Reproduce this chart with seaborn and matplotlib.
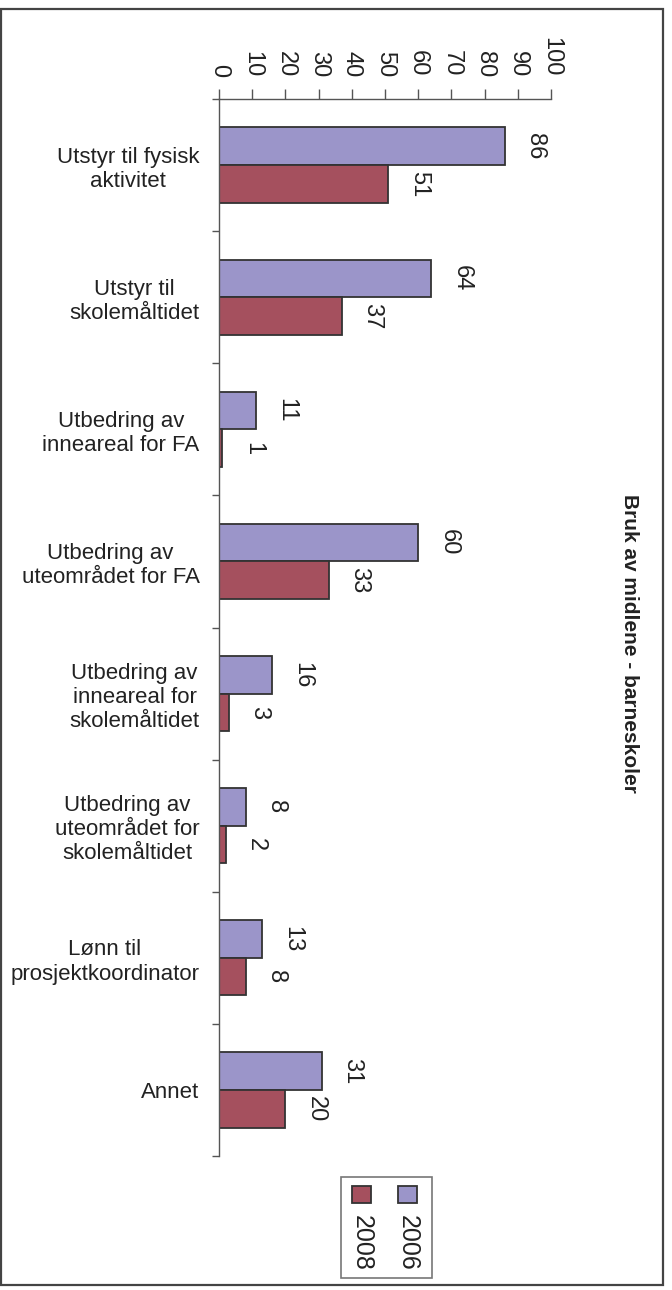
import matplotlib
matplotlib.use("Agg")
import matplotlib.pyplot as plt
import seaborn as sns
import pandas as pd
import numpy as np
from matplotlib.patches import Rectangle

categories = ["Utstyr til fysisk\naktivitet", "Utstyr til\nskolemåltidet",
              "Utbedring av\ninneareal for FA", "Utbedring av\nuteområdet for FA",
              "Utbedring av\ninneareal for\nskolemåltidet",
              "Utbedring av\nuteområdet for\nskolemåltidet",
              "Lønn til\nprosjektkoordinator", "Annet"]
years = ["2006", "2008"]
values_2006 = [86, 64, 11, 60, 16, 8, 13, 31]
values_2008 = [51, 37, 1, 33, 3, 2, 8, 20]
xticks = [0, 10, 20, 30, 40, 50, 60, 70, 80, 90, 100]
title = "Bruk av midlene - barneskoler"

colors = {"2006": "#9b95c9", "2008": "#a5505e"}
text_color = "#222222"

df = pd.DataFrame({
    "Kategori": categories * 2,
    "År": ["2006"] * len(categories) + ["2008"] * len(categories),
    "Verdi": values_2006 + values_2008,
})

sns.set_theme(style="white")
plt.rcParams["font.family"] = ["Liberation Sans", "DejaVu Sans"]

W, H = 672, 1290
fig = plt.figure(figsize=(W / 100, H / 100), dpi=100)
ax = fig.add_axes([219 / W, 134 / H, (551 - 219) / W, (1191 - 134) / H])

sns.barplot(data=df, y="Kategori", x="Verdi", hue="År", hue_order=years,
            order=categories, palette=colors, orient="h", width=0.57,
            edgecolor="#333333", linewidth=1.3, saturation=1, ax=ax,
            legend=False)

ax.set_xlim(0, 100)
ax.set_ylim(len(categories) - 0.5, -0.5)
ax.set_xlabel("")
ax.set_ylabel("")

# value axis on top
ax.xaxis.tick_top()
ax.set_xticks(xticks)
ax.set_xticklabels([str(t) for t in xticks], rotation=-90, fontsize=17,
                   color=text_color)
ax.tick_params(axis="x", which="major", direction="out", length=7, width=1,
               color="#555555", pad=9, top=True, bottom=False)

# category axis
ax.set_yticks(range(len(categories)))
ax.set_yticklabels(categories, fontsize=16, color=text_color)
for lab in ax.get_yticklabels():
    lab.set_multialignment("center")
    lab.set_linespacing(1.2)
ax.tick_params(axis="y", which="major", length=0, pad=14)
ax.set_yticks(np.arange(-0.5, len(categories), 1.0), minor=True)
ax.tick_params(axis="y", which="minor", direction="out", length=5, width=1,
               color="#555555", left=True)

for side in ["right", "bottom"]:
    ax.spines[side].set_visible(False)
for side in ["top", "left"]:
    ax.spines[side].set_visible(True)
    ax.spines[side].set_color("#555555")
    ax.spines[side].set_linewidth(1)

for cont in ax.containers:
    ax.bar_label(cont, fmt="%d", rotation=-90, padding=14, fontsize=17,
                 color=text_color)

# title on the right, rotated
fig.text(630 / W, 1 - 643 / H, title, rotation=-90, ha="center", va="center",
         fontsize=15, fontweight="bold", color=text_color)

# legend (rotated like the chart)
fig.patches.append(Rectangle((341 / W, 1 - 1278 / H), (432 - 341) / W,
                             (1278 - 1177) / H, transform=fig.transFigure,
                             facecolor="white", edgecolor="#777777", lw=1.2))
leg_items = [("2008", 352, 362), ("2006", 398, 408)]
for yr, px, tx in leg_items:
    fig.patches.append(Rectangle((px / W, 1 - 1203 / H), 19 / W, 17 / H,
                                 transform=fig.transFigure,
                                 facecolor=colors[yr], edgecolor="#333333",
                                 lw=1.3))
    fig.text(tx / W, 1 - 1243 / H, yr, rotation=-90, ha="center",
             va="center", fontsize=18, color=text_color)

# outer frame
fig.patches.append(Rectangle((1 / W, 5 / H), 662 / W, (1281 - 5) / H,
                             transform=fig.transFigure, facecolor="none",
                             edgecolor="#444444", lw=1.6))

fig.savefig("out.png", dpi=100, facecolor="white")
